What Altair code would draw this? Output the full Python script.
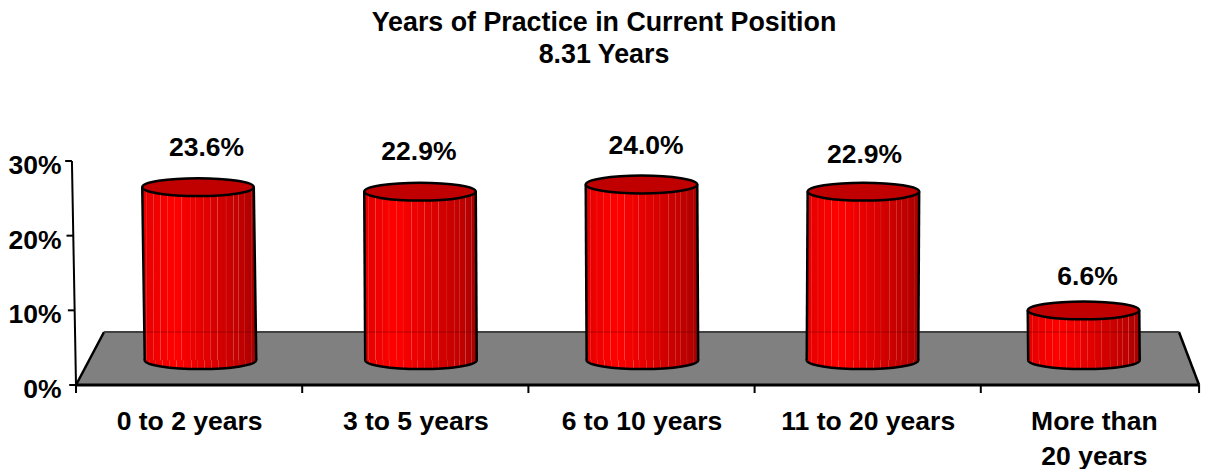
import altair as alt
import pandas as pd

TITLE_LINES = ["Years of Practice in Current Position", "8.31 Years"]
CATEGORIES = ["0 to 2 years", "3 to 5 years", "6 to 10 years", "11 to 20 years", "More than|20 years"]
VALUES = [23.6, 22.9, 24.0, 22.9, 6.6]
VALUE_LABELS = ["23.6%", "22.9%", "24.0%", "22.9%", "6.6%"]

# cylinder geometry in axis units (x: category slots, y: percent on the printed axis)
TOP_X = [0.5394, 1.5208, 2.5000, 3.4810, 4.4540]
BASE_X = [0.5504, 1.5250, 2.5040, 3.4770, 4.4560]
BASE_Y = [3.33, 3.33, 3.33, 3.33, 3.33]
TOP_Y = [26.5, 25.9, 26.85, 25.9, 10.0]
LABEL_X = [0.577, 1.516, 2.520, 3.486, 4.472]
LABEL_Y = [31.8, 31.25, 31.95, 30.75, 14.4]
HALF_WIDTH = 0.2465

TICK_PCT = [0, 10, 20, 30]
AXIS_X = [0.0, -0.006, -0.012, -0.018]
X_TICKS = [0, 1, 2, 3, 4, 4.965]

FLOOR_Y = [0, 7.1]
FLOOR_LEFT = [0, 0.124]
FLOOR_RIGHT = [4.965, 4.876]

GRAD_COLORS = [(0.0, (228, 0, 0)), (0.28, (255, 0, 0)), (0.62, (218, 0, 0)), (0.88, (190, 0, 0)), (1.0, (165, 0, 0))]
STREAKS = [0.04, 0.10, 0.16, 0.22, 0.285, 0.345, 0.42, 0.47, 0.535, 0.60, 0.66, 0.735, 0.80, 0.845, 0.90, 0.955]
TOP_FILL = "#c00000"
ELLIPSE = "M-1,0 A1,0.16 0 1,1 1,0 A1,0.16 0 1,1 -1,0 Z"
FONT = "Liberation Sans"
FS = 26.5

SLOT_W = 1131  # pixel span of the five category slots
W, H = 1123, 224
xs = alt.Scale(domain=[0, 5], range=[0, SLOT_W], nice=False, zero=False)
ys = alt.Scale(domain=[0, 30], nice=False)


def base_color(p):
    for (p0, c0), (p1, c1) in zip(GRAD_COLORS, GRAD_COLORS[1:]):
        if p0 <= p <= p1:
            t = (p - p0) / (p1 - p0)
            return tuple(a + (b - a) * t for a, b in zip(c0, c1))
    return GRAD_COLORS[-1][1]


def css(c):
    return "#%02x%02x%02x" % tuple(int(round(v)) for v in c)


def mix(c, amount=0.25):
    return tuple(v + (255 - v) * amount for v in c)


stops = [(p, css(c)) for p, c in GRAD_COLORS]
for s in STREAKS:
    c = base_color(s)
    stops += [(s - 0.0055, css(base_color(s - 0.0055))), (s, css(mix(c))),
              (s + 0.0055, css(base_color(s + 0.0055)))]
stops.sort()
gradient = alt.Gradient(gradient="linear", x1=0, y1=0, x2=1, y2=0,
                        stops=[alt.GradientStop(offset=o, color=c) for o, c in stops])

cyl = pd.DataFrame({"cat": CATEGORIES, "value": VALUES, "label": VALUE_LABELS,
                    "tx": TOP_X, "bx": BASE_X, "by": BASE_Y, "ty": TOP_Y,
                    "lx": LABEL_X, "ly": LABEL_Y})
cyl["tl"] = cyl.tx - HALF_WIDTH
cyl["tr"] = cyl.tx + HALF_WIDTH
cyl["bl"] = cyl.bx - HALF_WIDTH
cyl["br"] = cyl.bx + HALF_WIDTH

names = {i + 0.5: c.split("|") for i, c in enumerate(CATEGORIES)}
label_expr = "".join("datum.value==%s?%s:" % (k, v) for k, v in names.items()) + "''"

x_axis = alt.Axis(values=[i + 0.5 for i in range(5)], labelExpr=label_expr, title=None, domain=False,
                  ticks=False, grid=False, labelFont=FONT, labelFontWeight="bold",
                  labelFontSize=FS, labelColor="black", labelPadding=23, labelLineHeight=35,
                  labelLimit=0, labelOverlap=False)
y_axis = alt.Axis(values=TICK_PCT, labelExpr="datum.value+'%'", title=None, domain=False, ticks=False,
                  grid=False, labelFont=FONT, labelFontWeight="bold", labelFontSize=FS,
                  labelColor="black", labelPadding=15, labelOffset=4.5, labelOverlap=False, labelLimit=0)


def X(f, axis=None):
    return alt.X(f, type="quantitative", scale=xs, axis=axis) if axis else alt.X(f, type="quantitative", scale=xs)


def Y(f, axis=None):
    return alt.Y(f, type="quantitative", scale=ys, axis=axis) if axis else alt.Y(f, type="quantitative", scale=ys)


floor_df = pd.DataFrame({"y": FLOOR_Y, "l": FLOOR_LEFT, "r": FLOOR_RIGHT})
floor = alt.Chart(floor_df).mark_area(orient="horizontal", color="#808080", opacity=1).encode(
    x=X("l", x_axis), x2="r", y=Y("y", y_axis))


def seg(x1, y1, x2, y2, color="black", width=2.5, opacity=1):
    d = pd.DataFrame({"a": list(x1), "b": list(y1), "c": list(x2), "d": list(y2)})
    return alt.Chart(d).mark_rule(color=color, strokeWidth=width, opacity=opacity).encode(
        x=X("a"), y=Y("b"), x2="c", y2="d")


floor_edges = [
    seg([FLOOR_LEFT[0]], [0], [FLOOR_RIGHT[0]], [0], width=3),
    seg([FLOOR_LEFT[0]], [0], [FLOOR_LEFT[1]], [FLOOR_Y[1]]),
    seg([FLOOR_RIGHT[0]], [0], [FLOOR_RIGHT[1]], [FLOOR_Y[1]]),
    seg([FLOOR_LEFT[1]], [FLOOR_Y[1]], [FLOOR_RIGHT[1]], [FLOOR_Y[1]], color="#404040", width=2),
]

axis_line = seg([AXIS_X[0]], [0], [AXIS_X[-1]], [30], width=2)
y_ticks = seg([a - 0.03 for a in AXIS_X], TICK_PCT, AXIS_X, TICK_PCT, width=2)
x_ticks = alt.Chart(pd.DataFrame({"t": X_TICKS})).mark_rule(color="black", strokeWidth=2).encode(
    x=X("t"), y=alt.value(H), y2=alt.value(H + 8))

base_size = (HALF_WIDTH * SLOT_W / 5 * 2) ** 2
pt = dict(shape=ELLIPSE, size=base_size, filled=True, opacity=1, stroke="black", strokeWidth=2.5)
base = alt.Chart(cyl).mark_point(fill=gradient, **pt).encode(x=X("bx"), y=Y("by"))

bodies = []
for row in cyl.itertuples():
    d = pd.DataFrame({"y": [row.by, row.ty], "l": [row.bl, row.tl], "r": [row.br, row.tr]})
    bodies.append(alt.Chart(d).mark_area(orient="horizontal", fill=gradient, opacity=1).encode(
        x=X("l"), x2="r", y=Y("y")))
sides = [seg(cyl.bl, cyl.by, cyl.tl, cyl.ty), seg(cyl.br, cyl.by, cyl.tr, cyl.ty)]
ghost = seg(cyl.bl, [FLOOR_Y[1]] * 5, cyl.br, [FLOOR_Y[1]] * 5, color="#400000", width=1.5, opacity=0.22)

top = alt.Chart(cyl).mark_point(fill=TOP_FILL, **pt).encode(x=X("tx"), y=Y("ty"))
labels = alt.Chart(cyl).mark_text(font=FONT, fontWeight="bold", fontSize=FS, color="black").encode(
    x=X("lx"), y=Y("ly"), text="label")
title1 = alt.Chart(pd.DataFrame({"t": [TITLE_LINES[0]]})).mark_text(
    font=FONT, fontWeight="bold", fontSize=26.8, color="black").encode(
    x=alt.value(528), y=alt.value(-138), text="t")
title2 = alt.Chart(pd.DataFrame({"t": [TITLE_LINES[1]]})).mark_text(
    font=FONT, fontWeight="bold", fontSize=26.8, color="black").encode(
    x=alt.value(528), y=alt.value(-106), text="t")

chart = alt.layer(floor, *floor_edges, axis_line, y_ticks, x_ticks, base, *bodies, *sides, ghost, top, labels,
                  title1, title2).properties(
    width=W, height=H,
    autosize=alt.AutoSizeParams(type="none"),
    padding={"left": 68, "top": 153, "right": 2, "bottom": 84},
    background="white",
).configure_view(stroke=None)

chart.save("out.html", embed_options={"renderer": "svg", "actions": False})
